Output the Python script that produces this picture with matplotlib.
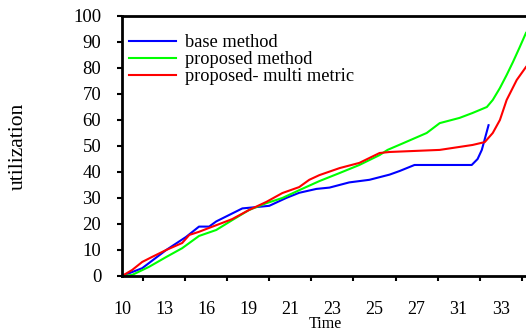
import matplotlib
matplotlib.use("Agg")
import matplotlib.pyplot as plt
import numpy as np

# Time positions (in tick-slot units) and utilization values
tick_labels = ["10", "13", "16", "19", "21", "23", "25", "27", "31", "33"]

base_x = [0, 0.48, 1.05, 1.52, 1.83, 2.07, 2.24, 2.55, 2.86, 3.19, 3.5, 3.9, 4.21,
          4.62, 4.93, 5.4, 5.88, 6.36, 6.6, 6.95, 8.31, 8.45, 8.55, 8.71]
base_y = [0, 3, 10, 15, 19, 19, 21, 23.5, 26, 26.5, 27, 30, 32,
          33.5, 34, 36, 37, 39, 40.4, 42.7, 42.7, 45, 48.5, 58]

prop_x = [0, 0.24, 0.64, 1.05, 1.43, 1.83, 2.24, 2.62, 3.02, 3.43, 3.81, 4.21, 4.69,
          5.17, 5.64, 6.12, 6.31, 6.67, 7.24, 7.55, 8.02, 8.33, 8.67, 8.81, 8.98,
          9.14, 9.29, 9.45, 9.6]
prop_y = [0, 0.4, 3.5, 7.3, 10.7, 15.4, 17.7, 21.5, 25.4, 28, 30, 33, 36.5,
          39.6, 42.7, 46.5, 48.5, 51, 55, 58.8, 60.8, 62.7, 65, 67.7, 72.3,
          77.3, 82.3, 88, 93.5]

multi_x = [0, 0.24, 0.48, 0.71, 1.05, 1.43, 1.6, 1.83, 2.07, 2.38, 2.62, 3.02, 3.43,
           3.81, 4.21, 4.45, 4.69, 5.17, 5.64, 5.88, 6.12, 6.36, 7.55, 8.33, 8.62,
           8.81, 8.98, 9.14, 9.38, 9.6]
multi_y = [0, 2.3, 5.4, 7.3, 10, 12.7, 15.8, 17, 18.5, 20.4, 21.9, 25.4, 28.5,
           31.9, 34.2, 37, 38.8, 41.5, 43.5, 45.4, 47.3, 47.7, 48.5, 50.4, 51.5,
           55, 60, 67.7, 75.4, 80.4]

series_names = ["base method", "proposed method", "proposed- multi metric"]

plt.rcParams['font.family'] = ['Liberation Serif', 'DejaVu Serif']

fig = plt.figure(figsize=(5.26, 3.31), dpi=100)
ax = fig.add_axes([122/526, 1-276/331, 1-122/526, 260/331])

ax.plot(base_x, base_y, color="#0000ff", lw=1.5, label=series_names[0])
ax.plot(prop_x, prop_y, color="#00ff00", lw=1.5, label=series_names[1])
ax.plot(multi_x, multi_y, color="#ff0000", lw=1.5, label=series_names[2])

ax.set_xlim(0, 9.6)
ax.set_ylim(0, 100)
ax.set_yticks(np.arange(0, 101, 10))
ax.set_xticks(range(len(tick_labels)))
ax.set_xticklabels(tick_labels)
ax.set_xticks([k + 0.5 for k in range(len(tick_labels))], minor=True)
ax.tick_params(axis='x', which='major', length=0, pad=18, labelsize=13)
ax.tick_params(axis='x', which='minor', length=3.6, width=1.5, direction='out')
ax.tick_params(axis='y', which='major', length=3.6, width=1.5, direction='out', pad=11.4, labelsize=13.5)

for s in ["left", "bottom", "top"]:
    ax.spines[s].set_linewidth(2)
ax.spines["right"].set_visible(False)

ax.set_xlabel("Time", fontsize=11.5, va='top')
ax.xaxis.set_label_coords((325-122)/404, (276-316.5)/260)
ax.set_ylabel("utilization", fontsize=15.5, va='center')
ax.yaxis.set_label_coords((18-122)/404, 0.5)

leg = ax.legend(loc="upper left", bbox_to_anchor=(0.0, 0.958), frameon=False,
                fontsize=13.2, handlelength=2.55, handletextpad=0.5, labelspacing=0.0,
                borderaxespad=0.2, borderpad=0.2)

fig.savefig("out.png", dpi=100)
